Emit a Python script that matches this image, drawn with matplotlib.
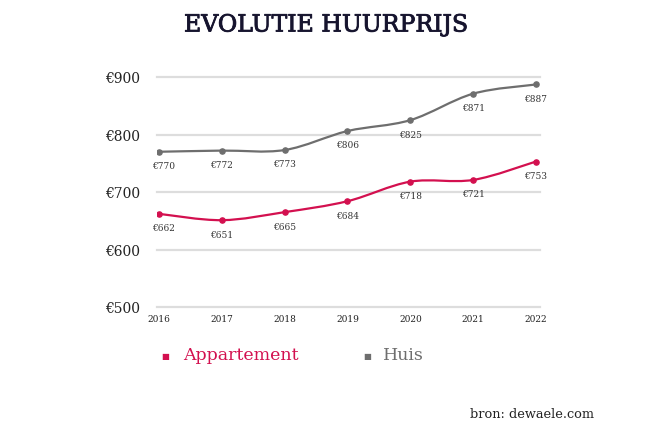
import matplotlib
matplotlib.use("Agg")
import matplotlib.pyplot as plt
import matplotlib.patheffects as pe
from matplotlib.path import Path
from matplotlib.patches import PathPatch
import numpy as np

jaren = [2016, 2017, 2018, 2019, 2020, 2021, 2022]
appartement = [662, 651, 665, 684, 718, 721, 753]
huis = [770, 772, 773, 806, 825, 871, 887]
y_ticks = [500, 600, 700, 800, 900]

rood = "#d3104f"
grijs = "#6e6e6e"
plt.rcParams["font.family"] = ["DejaVu Serif"]


def smooth_path(x, y):
    # catmull-rom -> bezier, zodat de lijn door de punten gaat
    x = np.asarray(x, float)
    y = np.asarray(y, float)
    verts = [(x[0], y[0])]
    codes = [Path.MOVETO]
    n = len(x)
    for i in range(n - 1):
        x0, y0 = (x[i - 1], y[i - 1]) if i > 0 else (x[i], y[i])
        x3, y3 = (x[i + 2], y[i + 2]) if i + 2 < n else (x[i + 1], y[i + 1])
        c1 = (x[i] + (x[i + 1] - x0) / 6, y[i] + (y[i + 1] - y0) / 6)
        c2 = (x[i + 1] - (x3 - x[i]) / 6, y[i + 1] - (y3 - y[i]) / 6)
        verts += [c1, c2, (x[i + 1], y[i + 1])]
        codes += [Path.CURVE4] * 3
    return Path(verts, codes)


fig = plt.figure(figsize=(6.6, 4.27), dpi=100)
ax = fig.add_axes([157 / 660, 1 - 308 / 427, (540 - 157) / 660, (308 - 78) / 427])

for waarden, kleur in [(huis, grijs), (appartement, rood)]:
    ax.add_patch(PathPatch(smooth_path(jaren, waarden), facecolor="none",
                           edgecolor=kleur, lw=1.6, zorder=3))
    ax.scatter(jaren, waarden, s=14, color=kleur, zorder=4)
    for j, w in zip(jaren, waarden):
        ax.annotate("€%d" % w, (j, w), xytext=(3 if j == jaren[0] else 0, -10),
                    textcoords="offset points", ha="center", va="center",
                    fontsize=6.5, color="#333333")

ax.set_xlim(2016 - 2 / 62.8, 2022 + 4 / 62.8)
ax.set_ylim(500, 900)
ax.set_yticks(y_ticks)
ax.set_yticklabels(["€%d" % t for t in y_ticks], fontsize=10, color="#222222")
ax.set_xticks(jaren)
ax.set_xticklabels([str(j) for j in jaren], fontsize=6.5, color="#222222")
ax.tick_params(axis="y", length=0, pad=12)
ax.tick_params(axis="x", length=0, pad=5)
ax.grid(axis="y", color="#dddddd", lw=1.6)
for gl in ax.get_ygridlines():
    gl.set_clip_on(False)
ax.set_axisbelow(True)
for s in ax.spines.values():
    s.set_visible(False)

fig.text(326 / 660, 1 - 26 / 427, "EVOLUTIE HUURPRIJS", ha="center", va="center",
         fontsize=17, color="#16142e",
         path_effects=[pe.withStroke(linewidth=0.6, foreground="#16142e")])

fig.text(165 / 660, 1 - 357 / 427, "■", ha="center", va="center", fontsize=6, color=rood)
fig.text(183 / 660, 1 - 356 / 427, "Appartement", ha="left", va="center", fontsize=12.5, color=rood)
fig.text(367 / 660, 1 - 357 / 427, "■", ha="center", va="center", fontsize=6, color=grijs)
fig.text(383 / 660, 1 - 356 / 427, "Huis", ha="left", va="center", fontsize=12.5, color=grijs)

fig.text(470 / 660, 1 - 415 / 427, "bron: dewaele.com", ha="left", va="center",
         fontsize=9.3, color="#222222")

fig.savefig("out.png", dpi=100)
